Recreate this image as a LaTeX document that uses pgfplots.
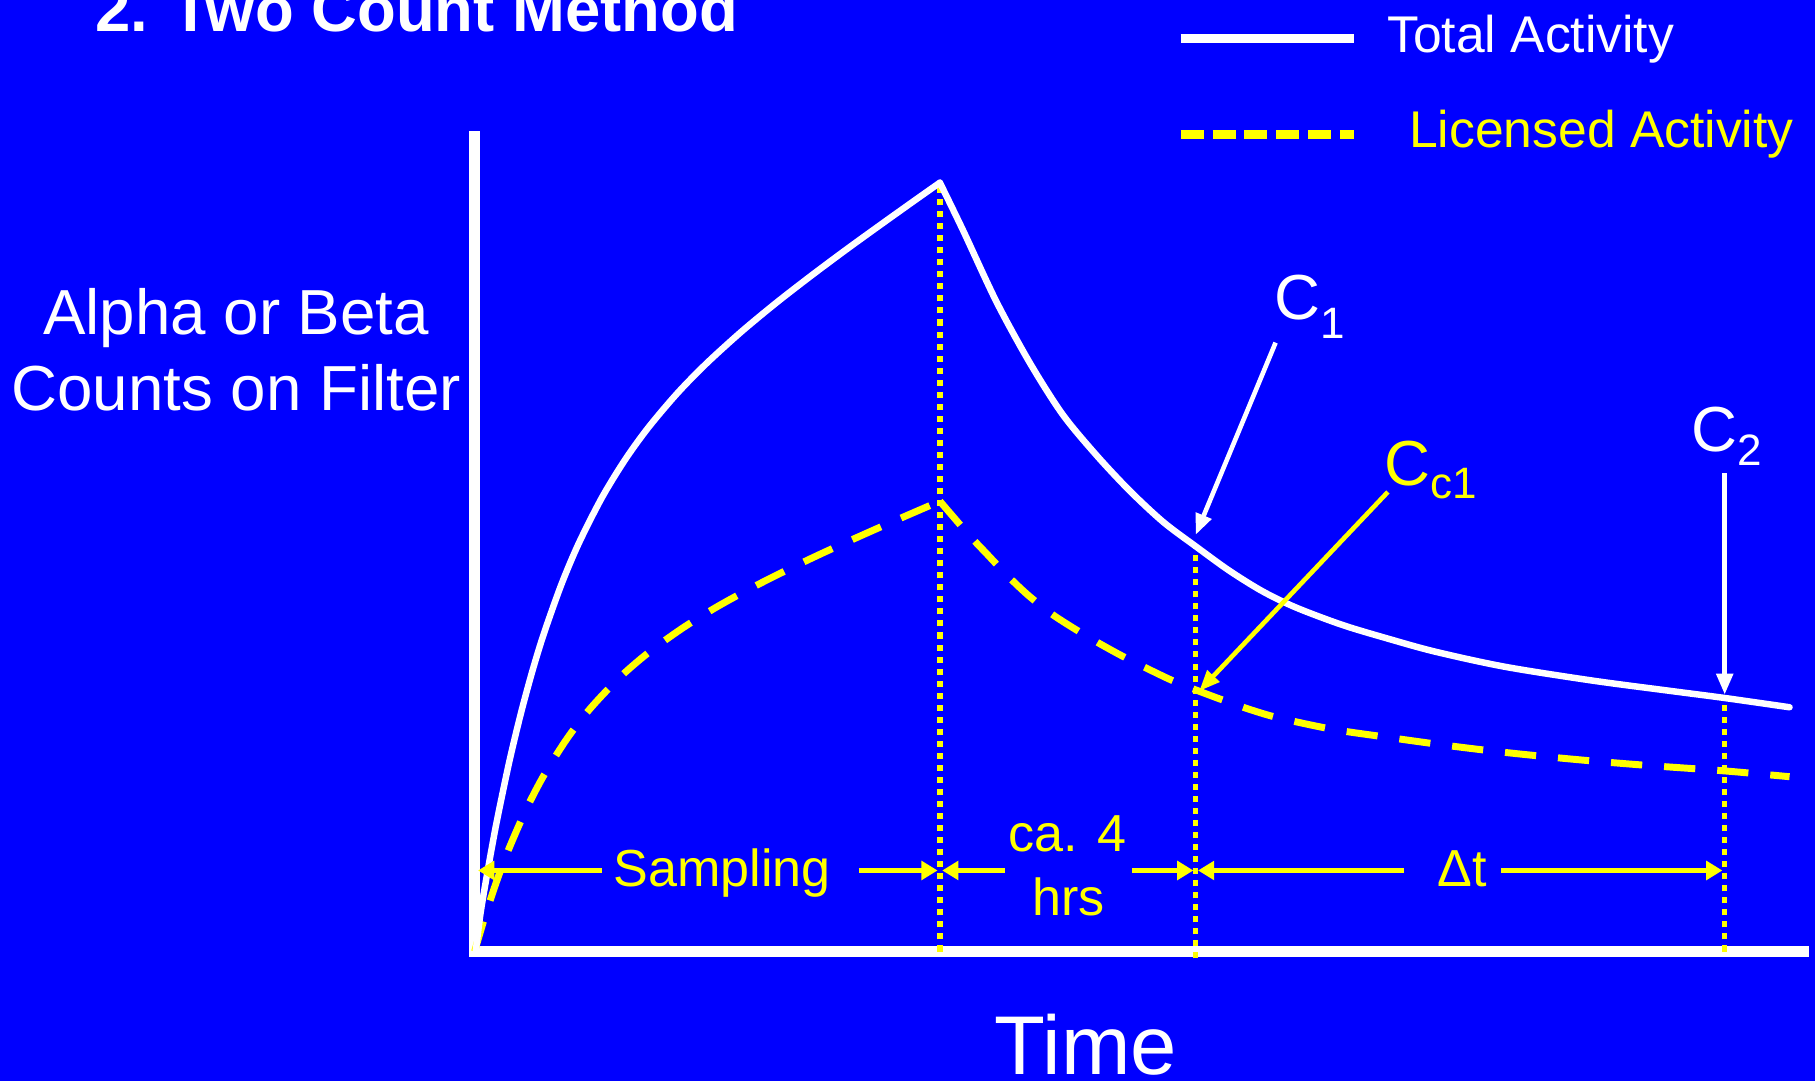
\documentclass[border=0pt]{standalone}
\usepackage{fontspec}
\setmainfont{Liberation Sans}
\usepackage{pgfplots}
\pgfplotsset{compat=1.18}
\usetikzlibrary{arrows.meta}
\definecolor{bg}{RGB}{0,0,255}
\definecolor{yel}{RGB}{255,255,0}

\begin{document}
\begin{tikzpicture}
\fill[bg] (-205pt,-56pt) rectangle (579pt,411pt);
\begin{axis}[
  x=0.5pt, y=0.5pt,
  xmin=0, xmax=1148, ymin=0, ymax=704,
  axis lines=left,
  axis line style={white, line width=4.5pt, -, line cap=rect},
  x axis line style={-}, y axis line style={-},
  xtick=\empty, ytick=\empty,
  clip=false,
]
% dotted verticals
\addplot[yel, line width=2.3pt, dash pattern=on 2.6pt off 2.6pt] coordinates {(402,0) (402,663)};
\addplot[yel, line width=2.3pt, dash pattern=on 2.6pt off 2.6pt] coordinates {(623,-6) (623,350)};
\addplot[yel, line width=2.3pt, dash pattern=on 2.6pt off 2.6pt] coordinates {(1080,0) (1080,219)};

% Licensed activity (yellow dashed)
\addplot[yel, line width=3pt, dash pattern=on 13.5pt off 9.5pt, smooth] coordinates {
(0,0)(10,33.6)(20,63.3)(30,89.6)(45,123.7)(60,152.4)(80,184.1)(100,210.0)(125,236.4)(150,258.0)(180,279.6)(210,298.1)(240,314.5)(270,329.6)(300,343.9)(330,357.5)(360,370.8)(402,389)};
\addplot[yel, line width=3pt, dash pattern=on 13.5pt off 9.5pt, smooth] coordinates {
(402,389)(427,360)(443,343)(460,325)(478,308)(498,292)(518,279)(540,266)(560,255)(582,244)(603,234)(623,226)(647,217)(670,209)(694,202)(741,192)(789,185)(840,178)(890,172)(950,166)(1010,161)(1080,156)(1136,151)};

% Total activity (white)
\addplot[white, line width=2.8pt, line cap=round, smooth] coordinates {
(1,0)(5,32.1)(10,62.2)(15,90.2)(20,116.5)(30,164.0)(40,205.7)(50,242.5)(60,275.0)(75,317.1)(90,352.6)(110,392.1)(130,424.8)(150,452.5)(175,482.1)(200,507.7)(230,535.0)(260,559.9)(290,583.2)(320,605.6)(350,627.3)(380,648.7)(402,664.2)};
\addplot[white, line width=2.8pt, line cap=round, smooth] coordinates {
(402,664.2)(422,623)(451,561)(480,508)(508,464)(537,429)(566,398)(595,371)(623,350)(652,329)(681,311)(710,297)(750,282)(790,270)(830,259)(890,246)(966,234)(1034,225)(1080,219)(1136,211)};

% time span arrows
\addplot[yel, line width=2.5pt, -{Triangle[length=7pt,width=8pt]}] coordinates {(110,70) (3,70)};
\addplot[yel, line width=2.5pt, -{Triangle[length=7pt,width=8pt]}] coordinates {(332,70) (400,70)};
\addplot[yel, line width=2.5pt, -{Triangle[length=7pt,width=8pt]}] coordinates {(458,70) (404,70)};
\addplot[yel, line width=2.5pt, -{Triangle[length=7pt,width=8pt]}] coordinates {(568,70) (621,70)};
\addplot[yel, line width=2.5pt, -{Triangle[length=7pt,width=8pt]}] coordinates {(803,70) (625,70)};
\addplot[yel, line width=2.5pt, -{Triangle[length=7pt,width=8pt]}] coordinates {(887,70) (1078,70)};

% pointer arrows
\addplot[white, line width=2pt, -{Triangle[length=9pt,width=7pt]}] coordinates {(692,526) (623,360)};
\addplot[yel, line width=2pt, -{Triangle[length=9pt,width=7pt]}] coordinates {(789,397) (626,225)};
\addplot[white, line width=2pt, -{Triangle[length=9pt,width=7pt]}] coordinates {(1080,413) (1080,222)};

% legend
\addplot[white, line width=4pt] coordinates {(610,789) (760,789)};
\addplot[yel, line width=4pt, dash pattern=on 10pt off 3.75pt] coordinates {(610,706) (760,706)};
\node[anchor=base west, inner sep=0, text=white, font=\fontsize{22.3}{26}\selectfont] at (axis cs:788,777) {Total Activity};
\node[anchor=base west, inner sep=0, text=yel, font=\fontsize{22.3}{26}\selectfont] at (axis cs:807,694.5) {Licensed Activity};

% texts
\node[anchor=base west, inner sep=0, text=white, font=\bfseries\fontsize{27.4}{30}\selectfont] at (axis cs:-328,795) {2. Two Count Method};
\node[anchor=base, inner sep=0, text=white, font=\fontsize{27.5}{30}\selectfont] at (axis cs:-206,532.6) {Alpha or Beta};
\node[anchor=base, inner sep=0, text=white, font=\fontsize{27.5}{30}\selectfont] at (axis cs:-206,467.2) {Counts on Filter};
\node[anchor=base, inner sep=0, text=white, font=\fontsize{36}{40}\selectfont] at (axis cs:528,-106) {Time};

\node[anchor=base, inner sep=0, text=yel, font=\fontsize{22.5}{26}\selectfont] at (axis cs:214,56) {Sampling};
\node[anchor=base, inner sep=0, text=yel, font=\fontsize{22.5}{26}\selectfont] at (axis cs:512,86) {ca. 4};
\node[anchor=base, inner sep=0, text=yel, font=\fontsize{22.5}{26}\selectfont] at (axis cs:513,31) {hrs};
\node[anchor=base, inner sep=0, text=yel, font=\fontsize{22.5}{26}\selectfont] at (axis cs:853,56) {Δt};

\node[anchor=base west, inner sep=0, text=white, font=\fontsize{27.5}{30}\selectfont] at (axis cs:691,546) {C\raisebox{-8pt}{\fontsize{19}{20}\selectfont 1}};
\node[anchor=base west, inner sep=0, text=yel, font=\fontsize{27.5}{30}\selectfont] at (axis cs:786,403) {C\raisebox{-6pt}{\fontsize{19}{20}\selectfont c1}};
\node[anchor=base west, inner sep=0, text=white, font=\fontsize{27.5}{30}\selectfont] at (axis cs:1051,432) {C\raisebox{-6pt}{\fontsize{19}{20}\selectfont 2}};
\end{axis}
\pgfresetboundingbox
\useasboundingbox (-205pt,-56pt) rectangle (579pt,411pt);
\end{tikzpicture}
\end{document}
